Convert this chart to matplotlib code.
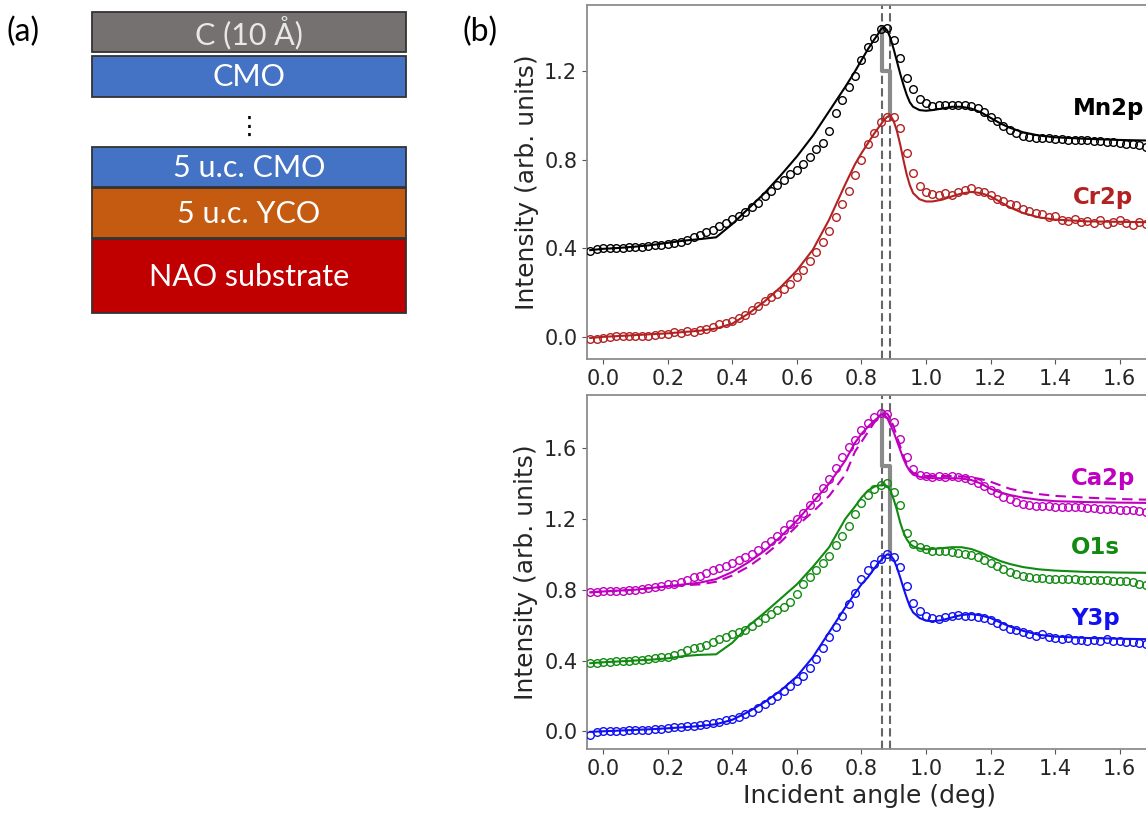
import numpy as np
import matplotlib
matplotlib.use("Agg")
import matplotlib.pyplot as plt
from matplotlib.patches import Rectangle

# ---- measured angles (deg) for the data points
angle = [-0.04, -0.02, 0.00, 0.02, 0.04, 0.06, 0.08, 0.10, 0.12, 0.14,
         0.16, 0.18, 0.20, 0.22, 0.24, 0.26, 0.28, 0.30, 0.32, 0.34,
         0.36, 0.38, 0.40, 0.42, 0.44, 0.46, 0.48, 0.50, 0.52, 0.54,
         0.56, 0.58, 0.60, 0.62, 0.64, 0.66, 0.68, 0.70, 0.72, 0.74,
         0.76, 0.78, 0.80, 0.82, 0.84, 0.86, 0.88, 0.90, 0.92, 0.94,
         0.96, 0.98, 1.00, 1.02, 1.04, 1.06, 1.08, 1.10, 1.12, 1.14,
         1.16, 1.18, 1.20, 1.22, 1.24, 1.26, 1.28, 1.30, 1.32, 1.34,
         1.36, 1.38, 1.40, 1.42, 1.44, 1.46, 1.48, 1.50, 1.52, 1.54,
         1.56, 1.58, 1.60, 1.62, 1.64, 1.66, 1.68]

mn2p_data = [0.390, 0.395, 0.400, 0.400, 0.402, 0.403, 0.405, 0.405, 0.408, 0.410,
             0.413, 0.417, 0.420, 0.425, 0.430, 0.440, 0.450, 0.460, 0.475, 0.485,
             0.500, 0.515, 0.535, 0.548, 0.565, 0.585, 0.605, 0.635, 0.660, 0.685,
             0.710, 0.735, 0.755, 0.780, 0.815, 0.850, 0.875, 0.930, 1.010, 1.070,
             1.130, 1.180, 1.250, 1.310, 1.350, 1.390, 1.395, 1.340, 1.260, 1.170,
             1.120, 1.075, 1.055, 1.045, 1.050, 1.050, 1.050, 1.050, 1.048, 1.045,
             1.035, 1.015, 0.995, 0.975, 0.955, 0.935, 0.920, 0.910, 0.905, 0.900,
             0.900, 0.898, 0.895, 0.893, 0.892, 0.890, 0.890, 0.888, 0.886, 0.884,
             0.882, 0.880, 0.877, 0.873, 0.870, 0.865, 0.860]

cr2p_data = [-0.010, -0.008, -0.003, 0.000, 0.003, 0.002, 0.004, 0.003, 0.005, 0.004,
             0.010, 0.012, 0.015, 0.020, 0.018, 0.025, 0.022, 0.030, 0.035, 0.045,
             0.060, 0.062, 0.070, 0.085, 0.100, 0.120, 0.140, 0.160, 0.180, 0.195,
             0.215, 0.240, 0.270, 0.300, 0.345, 0.385, 0.430, 0.480, 0.540, 0.600,
             0.660, 0.730, 0.800, 0.870, 0.920, 0.970, 0.995, 0.995, 0.945, 0.830,
             0.740, 0.680, 0.655, 0.645, 0.640, 0.650, 0.640, 0.655, 0.665, 0.675,
             0.660, 0.655, 0.640, 0.625, 0.615, 0.600, 0.595, 0.580, 0.570, 0.560,
             0.555, 0.540, 0.545, 0.530, 0.525, 0.535, 0.520, 0.525, 0.515, 0.530,
             0.510, 0.520, 0.530, 0.515, 0.505, 0.520, 0.510]

ca2p_data = [0.785, 0.787, 0.790, 0.790, 0.795, 0.795, 0.800, 0.800, 0.805, 0.810,
             0.815, 0.820, 0.830, 0.835, 0.845, 0.855, 0.870, 0.880, 0.895, 0.910,
             0.920, 0.935, 0.950, 0.965, 0.985, 1.000, 1.025, 1.050, 1.075, 1.105,
             1.140, 1.170, 1.200, 1.235, 1.280, 1.325, 1.375, 1.425, 1.490, 1.550,
             1.605, 1.645, 1.700, 1.740, 1.775, 1.800, 1.790, 1.745, 1.650, 1.550,
             1.480, 1.450, 1.440, 1.438, 1.440, 1.438, 1.440, 1.435, 1.430, 1.420,
             1.405, 1.385, 1.365, 1.345, 1.325, 1.310, 1.295, 1.285, 1.280, 1.275,
             1.275, 1.272, 1.270, 1.270, 1.268, 1.265, 1.265, 1.262, 1.260, 1.258,
             1.255, 1.255, 1.252, 1.250, 1.248, 1.245, 1.240]

o1s_data = [0.385, 0.388, 0.390, 0.393, 0.395, 0.398, 0.400, 0.402, 0.405, 0.408,
            0.412, 0.418, 0.422, 0.430, 0.445, 0.460, 0.468, 0.478, 0.490, 0.505,
            0.520, 0.535, 0.550, 0.563, 0.575, 0.595, 0.615, 0.638, 0.660, 0.685,
            0.705, 0.730, 0.775, 0.830, 0.870, 0.910, 0.950, 0.990, 1.055, 1.105,
            1.160, 1.230, 1.290, 1.335, 1.370, 1.390, 1.400, 1.350, 1.280, 1.120,
            1.060, 1.040, 1.030, 1.020, 1.020, 1.020, 1.015, 1.010, 1.000, 0.995,
            0.985, 0.970, 0.950, 0.935, 0.915, 0.900, 0.890, 0.880, 0.870, 0.865,
            0.865, 0.862, 0.860, 0.860, 0.858, 0.858, 0.856, 0.855, 0.855, 0.853,
            0.852, 0.850, 0.850, 0.848, 0.845, 0.835, 0.825]

y3p_data = [-0.020, -0.005, 0.000, 0.000, 0.002, 0.004, 0.005, 0.008, 0.008, 0.010,
            0.012, 0.015, 0.020, 0.022, 0.025, 0.028, 0.030, 0.035, 0.040, 0.045,
            0.055, 0.065, 0.070, 0.082, 0.095, 0.110, 0.130, 0.155, 0.175, 0.200,
            0.225, 0.255, 0.285, 0.315, 0.360, 0.410, 0.470, 0.530, 0.590, 0.650,
            0.720, 0.780, 0.860, 0.910, 0.945, 0.975, 1.000, 0.985, 0.930, 0.820,
            0.725, 0.680, 0.650, 0.640, 0.635, 0.645, 0.650, 0.655, 0.650, 0.652,
            0.648, 0.640, 0.630, 0.612, 0.595, 0.580, 0.570, 0.560, 0.550, 0.540,
            0.548, 0.530, 0.525, 0.522, 0.525, 0.518, 0.515, 0.512, 0.515, 0.510,
            0.520, 0.510, 0.512, 0.505, 0.505, 0.500, 0.495]

# ---- model curves
fit_angle = [-0.04, 0.00, 0.05, 0.10, 0.15, 0.20, 0.25, 0.30, 0.35, 0.40,
             0.45, 0.50, 0.55, 0.60, 0.65, 0.70, 0.75, 0.78, 0.80, 0.82,
             0.84, 0.85, 0.86, 0.87, 0.88, 0.89, 0.90, 0.91, 0.92, 0.93,
             0.94, 0.95, 0.96, 0.98, 1.00, 1.02, 1.05, 1.08, 1.11, 1.14,
             1.17, 1.20, 1.23, 1.26, 1.30, 1.35, 1.40, 1.50, 1.60, 1.70,
             1.80, 2.00]

mn2p_fit = [0.392, 0.398, 0.402, 0.408, 0.415, 0.425, 0.435, 0.442, 0.450, 0.510,
            0.580, 0.650, 0.730, 0.815, 0.910, 1.020, 1.130, 1.200, 1.250, 1.300,
            1.345, 1.365, 1.390, 1.400, 1.385, 1.350, 1.300, 1.245, 1.190, 1.140,
            1.095, 1.060, 1.040, 1.025, 1.022, 1.025, 1.032, 1.040, 1.040, 1.032,
            1.015, 0.990, 0.965, 0.945, 0.925, 0.910, 0.902, 0.895, 0.890, 0.887,
            0.885, 0.882]

cr2p_fit = [-0.005, 0.000, 0.004, 0.008, 0.012, 0.016, 0.022, 0.028, 0.038, 0.060,
            0.105, 0.160, 0.225, 0.300, 0.395, 0.530, 0.690, 0.780, 0.830, 0.875,
            0.920, 0.940, 0.960, 0.980, 0.995, 1.000, 0.975, 0.930, 0.870, 0.800,
            0.735, 0.685, 0.650, 0.622, 0.612, 0.612, 0.620, 0.635, 0.648, 0.655,
            0.650, 0.635, 0.610, 0.585, 0.560, 0.540, 0.530, 0.522, 0.520, 0.518,
            0.516, 0.514]

ca2p_fit = [0.785, 0.790, 0.795, 0.800, 0.810, 0.820, 0.830, 0.840, 0.860, 0.900,
            0.955, 1.020, 1.100, 1.190, 1.295, 1.400, 1.530, 1.630, 1.680, 1.720,
            1.755, 1.770, 1.790, 1.790, 1.770, 1.730, 1.690, 1.640, 1.590, 1.540,
            1.500, 1.470, 1.450, 1.438, 1.432, 1.430, 1.430, 1.430, 1.428, 1.420,
            1.400, 1.370, 1.350, 1.335, 1.320, 1.308, 1.300, 1.295, 1.292, 1.290,
            1.288, 1.286]

ca2p_fit2 = [0.785, 0.790, 0.795, 0.800, 0.810, 0.818, 0.825, 0.830, 0.845, 0.880,
             0.930, 0.995, 1.070, 1.160, 1.240, 1.330, 1.450, 1.580, 1.635, 1.690,
             1.745, 1.765, 1.785, 1.795, 1.795, 1.765, 1.720, 1.665, 1.610, 1.555,
             1.510, 1.480, 1.460, 1.447, 1.443, 1.442, 1.442, 1.442, 1.440, 1.435,
             1.425, 1.410, 1.390, 1.370, 1.355, 1.340, 1.330, 1.320, 1.312, 1.308,
             1.305, 1.302]

o1s_fit = [0.385, 0.390, 0.395, 0.400, 0.405, 0.412, 0.425, 0.432, 0.435, 0.500,
           0.595, 0.670, 0.750, 0.830, 0.930, 1.040, 1.200, 1.270, 1.320, 1.360,
           1.382, 1.388, 1.390, 1.392, 1.385, 1.360, 1.310, 1.250, 1.180, 1.125,
           1.085, 1.060, 1.045, 1.032, 1.028, 1.030, 1.035, 1.040, 1.040, 1.030,
           1.010, 0.985, 0.962, 0.945, 0.928, 0.915, 0.908, 0.900, 0.897, 0.895,
           0.893, 0.891]

y3p_fit = [-0.003, 0.000, 0.004, 0.008, 0.012, 0.017, 0.023, 0.030, 0.040, 0.065,
           0.110, 0.165, 0.230, 0.310, 0.420, 0.560, 0.700, 0.780, 0.830, 0.870,
           0.920, 0.945, 0.965, 0.985, 1.000, 0.995, 0.970, 0.925, 0.870, 0.810,
           0.755, 0.705, 0.672, 0.640, 0.625, 0.622, 0.628, 0.643, 0.657, 0.662,
           0.655, 0.640, 0.615, 0.592, 0.568, 0.545, 0.535, 0.527, 0.523, 0.520,
           0.518, 0.515]

# critical angles and the gray step marker
crit_angle = [0.865, 0.888]
step_x = [0.865, 0.865, 0.888, 0.888]
step_top = [1.40, 1.20, 1.20, 1.00]
step_bot = [1.80, 1.50, 1.50, 1.00]

xticks = [0.0, 0.2, 0.4, 0.6, 0.8, 1.0, 1.2, 1.4, 1.6]

# layer stack of panel (a)
layer_names = ["C (10 Å)", "CMO", "5 u.c. CMO", "5 u.c. YCO", "NAO substrate"]
layer_colors = ["#767171", "#4472c4", "#4472c4", "#c55a11", "#c00000"]
layer_text = ["#e8e8e8", "white", "white", "white", "white"]
layer_top = [12, 56, 147, 188, 239]
layer_bot = [52, 97, 187, 238, 313]

W, H = 1146, 813
fig = plt.figure(figsize=(W / 100, H / 100), dpi=100)

# ---- panel (a), drawn in pixel coordinates
ax0 = fig.add_axes([0, 0, 1, 1])
ax0.set_xlim(0, W)
ax0.set_ylim(H, 0)
ax0.axis("off")
for name, c, tc, t, b in zip(layer_names, layer_colors, layer_text, layer_top, layer_bot):
    ax0.add_patch(Rectangle((92, t), 314, b - t, facecolor=c,
                            edgecolor="#333333", lw=1.3))
    ax0.text(249, (t + b) / 2 + 1, name, color=tc, fontsize=22,
             family="Lato", ha="center", va="center")
ax0.text(249, 127, "⋮", fontsize=18, ha="center", va="center", color="black")
ax0.text(7, 32, "(a)", fontsize=23, family="Lato", va="center")
ax0.text(463, 32, "(b)", fontsize=23, family="Lato", va="center")

# ---- panel (b); right spine sits just past the figure edge
left = 587 / W
width = 565 / W
ax_top = fig.add_axes([left, (H - 359) / H, width, 354 / H])
ax_bot = fig.add_axes([left, 64 / H, width, 354 / H])


def style(ax, ylim, yticks):
    ax.set_xlim(-0.05, 1.70)
    ax.set_ylim(*ylim)
    ax.set_xticks(xticks)
    ax.set_yticks(yticks)
    ax.xaxis.set_major_formatter(plt.FormatStrFormatter("%.1f"))
    ax.yaxis.set_major_formatter(plt.FormatStrFormatter("%.1f"))
    ax.tick_params(labelsize=15, colors="#555555", labelcolor="#262626")
    for s in ax.spines.values():
        s.set_color("#8c8c8c")
        s.set_linewidth(1.3)
    ax.set_ylabel("Intensity (arb. units)", fontsize=18, color="#262626")
    for xc in crit_angle:
        ax.axvline(xc, color="#666666", ls=(0, (4, 2)), lw=1.5, zorder=1)


def series(ax, data, fit, color):
    ax.plot(angle, data, "o", mfc="none", mec=color, ms=5.5, mew=1.0, zorder=3)
    ax.plot(fit_angle, fit, "-", color=color, lw=1.5, zorder=4)


style(ax_top, (-0.1, 1.5), [0.0, 0.4, 0.8, 1.2])
ax_top.plot(step_x, step_top, color="#8a8a8a", lw=3, zorder=2)
series(ax_top, mn2p_data, mn2p_fit, "black")
series(ax_top, cr2p_data, cr2p_fit, "#b22222")
ax_top.text(1.455, 1.03, "Mn2p", color="black", fontsize=16.5, fontweight="bold", va="center")
ax_top.text(1.455, 0.63, "Cr2p", color="#b22222", fontsize=16.5, fontweight="bold", va="center")

style(ax_bot, (-0.1, 1.9), [0.0, 0.4, 0.8, 1.2, 1.6])
ax_bot.plot(step_x, step_bot, color="#8a8a8a", lw=3, zorder=2)
series(ax_bot, ca2p_data, ca2p_fit, "#c000c0")
ax_bot.plot(fit_angle, ca2p_fit2, color="#c000c0", lw=1.5, ls=(0, (5, 3)), zorder=4)
series(ax_bot, o1s_data, o1s_fit, "#128a12")
series(ax_bot, y3p_data, y3p_fit, "#1010f0")
ax_bot.text(1.45, 1.43, "Ca2p", color="#c000c0", fontsize=16.5, fontweight="bold", va="center")
ax_bot.text(1.45, 1.04, "O1s", color="#128a12", fontsize=16.5, fontweight="bold", va="center")
ax_bot.text(1.45, 0.64, "Y3p", color="#1010f0", fontsize=16.5, fontweight="bold", va="center")
ax_bot.set_xlabel("Incident angle (deg)", fontsize=18, color="#262626")

fig.savefig("out.png", dpi=100)
